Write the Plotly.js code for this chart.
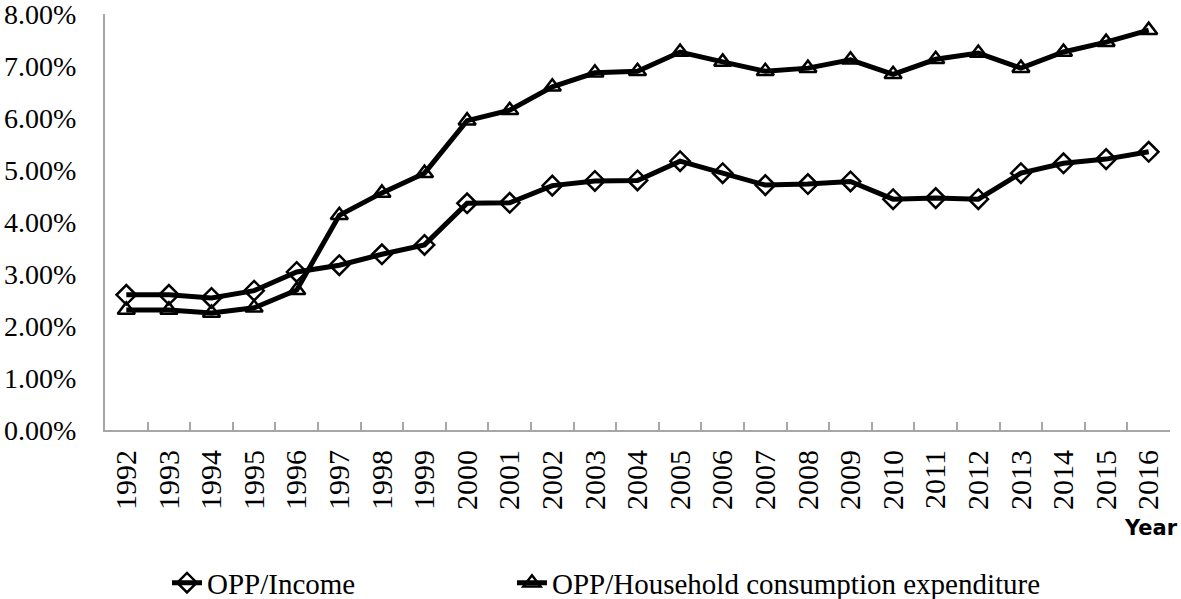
<!DOCTYPE html>
<html>
<head>
<meta charset="utf-8">
<script src="https://cdn.plot.ly/plotly-3.0.1.min.js"></script>
<style>html,body{margin:0;padding:0;background:#fff;}#chart{width:1181px;height:599px;}</style>
</head>
<body>
<div id="chart"></div>
<script>
const years = ['1992','1993','1994','1995','1996','1997','1998','1999','2000','2001','2002','2003','2004','2005','2006','2007','2008','2009','2010','2011','2012','2013','2014','2015','2016'];
const oppIncome = [2.60,2.60,2.54,2.68,3.04,3.17,3.38,3.56,4.36,4.37,4.70,4.79,4.80,5.17,4.94,4.71,4.73,4.78,4.44,4.46,4.44,4.94,5.13,5.21,5.35];
const oppHousehold = [2.31,2.31,2.25,2.35,2.69,4.13,4.56,4.94,5.95,6.15,6.60,6.87,6.90,7.27,7.08,6.90,6.96,7.12,6.84,7.13,7.25,6.96,7.27,7.46,7.69];
const seriesNames = ['OPP/Income','OPP/Household consumption expenditure'];
const yTicks = [0,1,2,3,4,5,6,7,8];
const yTickText = yTicks.map(v => v.toFixed(2) + '%');

const serif = '"Liberation Serif", "Times New Roman", serif';
const traces = [
  {x: years, y: oppIncome, name: seriesNames[0], type: 'scatter', mode: 'lines+markers', legend: 'legend',
   line: {color: '#000', width: 5},
   marker: {symbol: 'diamond-open', size: 15, color: '#000', line: {color: '#000', width: 2.5}}},
  {x: years, y: oppHousehold, name: seriesNames[1], type: 'scatter', mode: 'lines+markers', legend: 'legend2',
   line: {color: '#000', width: 5},
   marker: {symbol: 'triangle-up-open', size: 15, color: '#000', line: {color: '#000', width: 2.5}}}
];
const legendFont = {family: serif, size: 29, color: '#000'};
const layout = {
  width: 1181, height: 599,
  margin: {l: 105, r: 11, t: 14, b: 169},
  paper_bgcolor: '#fff', plot_bgcolor: '#fff',
  font: {family: serif, color: '#000', size: 29},
  showlegend: true,
  legend: {orientation: 'h', xref: 'container', yref: 'container', x: 0.1414, y: 0.027,
           xanchor: 'left', yanchor: 'middle', font: legendFont, bgcolor: 'rgba(0,0,0,0)'},
  legend2: {orientation: 'h', xref: 'container', yref: 'container', x: 0.4335, y: 0.027,
           xanchor: 'left', yanchor: 'middle', font: legendFont, bgcolor: 'rgba(0,0,0,0)'},
  xaxis: {type: 'category', range: [-0.5, 24.5], autorange: false, tickson: 'boundaries',
          ticks: 'inside', ticklen: 8, tickwidth: 2, tickcolor: '#a6a6a6',
          showline: true, linecolor: '#a6a6a6', linewidth: 2, showgrid: false, zeroline: false,
          tickangle: -90, tickfont: {family: serif, size: 30, color: '#000'}, ticklabelstandoff: 6},
  yaxis: {type: 'linear', range: [0, 8.001], autorange: false, tickmode: 'array', tickvals: yTicks, ticktext: yTickText,
          showline: true, linecolor: '#a6a6a6', linewidth: 2, showgrid: false, zeroline: false,
          ticks: '', tickfont: {family: serif, size: 28, color: '#000'}, ticklabelstandoff: 21,
          ticklabeloverflow: 'allow'},
  annotations: [{text: '<b>Year</b>', xref: 'paper', yref: 'paper', x: 1.0094, y: -0.2356,
                 xanchor: 'right', yanchor: 'middle', showarrow: false,
                 font: {family: 'DejaVu Sans', size: 21, color: '#000'}}]
};
Plotly.newPlot('chart', traces, layout, {staticPlot: true});
</script>
</body>
</html>
